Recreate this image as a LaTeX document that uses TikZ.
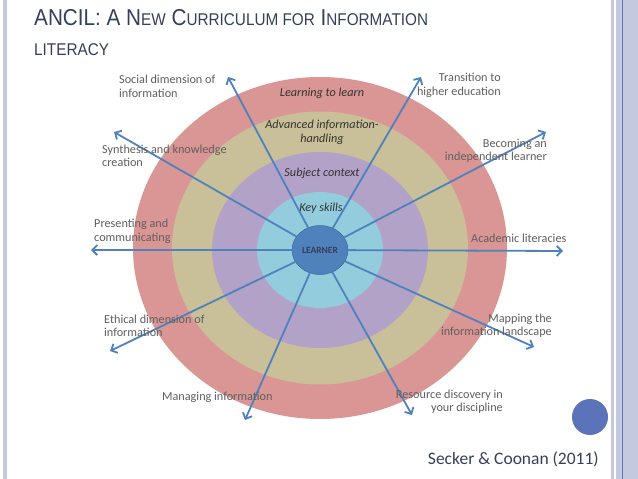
\documentclass[tikz,border=0pt]{standalone}
\usepackage{fontspec}
\setmainfont{Carlito}
\newfontfamily\titlefont[FakeStretch=0.9]{Liberation Sans}
\usetikzlibrary{arrows.meta,shapes.geometric}
\definecolor{ink}{HTML}{34405A}
\definecolor{labelgray}{HTML}{5F5F5F}
\definecolor{ringink}{HTML}{333333}
\definecolor{ringred}{HTML}{D99694}
\definecolor{ringtan}{HTML}{C9BF98}
\definecolor{ringlilac}{HTML}{B3A2C7}
\definecolor{ringcyan}{HTML}{93CDDD}
\definecolor{hub}{HTML}{4F81BD}
\definecolor{frame}{HTML}{C3CADF}
\definecolor{frameline}{HTML}{6877B4}
\definecolor{dot}{HTML}{5B73B9}
\newcommand{\smcap}[1]{{\fontsize{17}{20}\selectfont #1}}
\tikzset{
  spoke/.style={draw=hub,line width=1.8pt,-{Straight Barb[length=5pt,width=10pt]}},
  outl/.style={font=\fontsize{12.2}{13.5}\selectfont,text=labelgray,inner sep=0,align=left,anchor=base west},
  outr/.style={font=\fontsize{12.2}{13.5}\selectfont,text=labelgray,inner sep=0,align=right,anchor=base east},
  ringlabel/.style={font=\itshape\fontsize{12.2}{14}\selectfont,text=ringink,inner sep=0,align=center,anchor=base}
}

\begin{document}
\begin{tikzpicture}[x=1pt,y=-1pt]
\useasboundingbox (0,0) rectangle (638,479);\fill[white] (0,0) rectangle (638,479);
\fill[frame] (3,0) rectangle (7,479);\fill[frame] (610.5,0) rectangle (613.5,479);\fill[frame] (616,0) rectangle (638,479);
\draw[frameline,line width=.8pt] (622,0)--(622,479);
\node[anchor=base west,inner sep=0,text=ink,font=\titlefont\fontsize{23}{28}\selectfont] (title) at (34,26) {ANCIL: A N\smcap{EW} C\smcap{URRICULUM FOR} I\smcap{NFORMATION}};
\node[anchor=base west,inner sep=0,text=ink,font=\titlefont] (title2) at (34,55) {\smcap{LITERACY}};
\coordinate (centre) at (320,248);
\fill[ringred] (centre) ellipse [x radius=187pt,y radius=171pt];\fill[ringtan] (centre) ellipse [x radius=148pt,y radius=136.5pt];
\fill[ringlilac] (320,250) ellipse [x radius=108pt,y radius=98pt];\fill[ringcyan] (320,250) ellipse [x radius=63pt,y radius=58pt];
\node[ellipse,fill=hub,draw=hub!80!black,line width=.5pt,minimum width=56pt,minimum height=49pt,inner sep=0,text=ink,font=\bfseries\fontsize{9.5}{10}\selectfont] (learner) at (320,250) {LEARNER};
\coordinate (social) at (228,77);\coordinate (synth) at (114,132);\coordinate (present) at (91,250);\coordinate (ethical) at (110,351);\coordinate (managing) at (245,420);
\coordinate (resource) at (412,415);\coordinate (mapping) at (534,347);\coordinate (academic) at (563,251);\coordinate (becoming) at (546,132);\coordinate (transition) at (421,77);
\foreach \tip in {social,synth,present,ethical,managing,resource,mapping,academic,becoming,transition} \draw[spoke] (learner)--(\tip);
\node[ringlabel] (learn) at (322,96) {Learning to learn};
\node[ringlabel] (advanced) at (322,142) {Advanced information-\\handling};
\node[ringlabel] (subject) at (322,176) {Subject context};
\node[ringlabel] (keyskills) at (321,211) {Key skills};
\node[outl] (socialtext) at (119,97) {Social dimension of\\information};
\node[outl] (synthtext) at (102,166.5) {Synthesis and knowledge\\creation};
\node[outl] (presenttext) at (94,241) {Presenting and\\communicating};
\node[outl] (ethicaltext) at (104,336.5) {Ethical dimension of\\information};
\node[outl] (managingtext) at (162,400) {Managing information};
\node[outr] (resourcetext) at (503,411.5) {Resource discovery in\\your discipline};
\node[outr] (mappingtext) at (552,335.5) {Mapping the\\information landscape};
\node[outl] (academictext) at (471,242) {Academic literacies};
\node[outr] (becomingtext) at (547,160.5) {Becoming an\\independent learner};
\node[outr] (transitiontext) at (501,95) {Transition to\\higher education};
\fill[dot] (590,417) circle (18pt);
\node[anchor=base east,inner sep=0,text=ink,font=\fontsize{17.5}{20}\selectfont] (cite) at (599,464) {Secker \& Coonan (2011)};
\end{tikzpicture}
\end{document}
